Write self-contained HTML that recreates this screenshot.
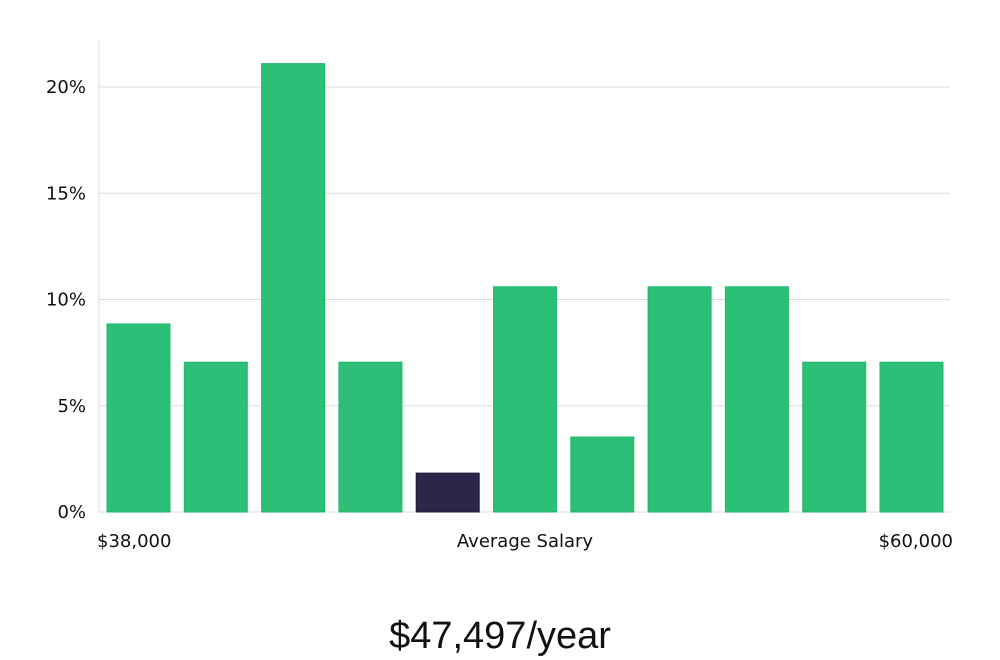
<!DOCTYPE html>
<html><head><meta charset="utf-8"><style>
html,body{margin:0;padding:0;background:#fff;width:1000px;height:660px;overflow:hidden}
svg{display:block}
text{font-family:"DejaVu Sans","Liberation Sans",sans-serif;fill:#111}
</style></head><body>
<svg id="chart" width="1000" height="660" viewBox="0 0 1000 660" xmlns="http://www.w3.org/2000/svg">
<g id="grid"></g><g id="bars"></g><g id="labels"></g>
<text x="97" y="547" font-size="18">$38,000</text>
<text x="525" y="547" font-size="18" text-anchor="middle">Average Salary</text>
<text x="953" y="547" font-size="18" text-anchor="end">$60,000</text>
<text x="500" y="648" font-size="38" text-anchor="middle" style="font-family:'Liberation Sans',sans-serif;font-weight:300">$47,497/year</text>
</svg>
<script>
const categories=["b1","b2","b3","b4","b5","b6","b7","b8","b9","b10","b11"];
const values=[8.85,7.05,21.1,7.05,1.83,10.6,3.53,10.6,10.6,7.05,7.05];
const highlightIndex=4;
const yTicks=[0,5,10,15,20];
const yTickLabels=["0%","5%","10%","15%","20%"];
const NS="http://www.w3.org/2000/svg";
const y0=512, pxPerPct=21.25, left=99, right=950;
function y(v){return y0-v*pxPerPct;}
function x(i){return 107+i*77.3;}
const grid=document.getElementById('grid');
const axis=document.createElementNS(NS,'line');


axis.setAttribute('x1',left);axis.setAttribute('x2',left);axis.setAttribute('y1',40);axis.setAttribute('y2',y0);
axis.setAttribute('stroke','#ddd');grid.appendChild(axis);
yTicks.forEach((t,i)=>{
  const l=document.createElementNS(NS,'line');
  
  
  l.setAttribute('x1',left);l.setAttribute('x2',right);l.setAttribute('y1',y(t));l.setAttribute('y2',y(t));
  l.setAttribute('stroke','#ddd');grid.appendChild(l);
  const tx=document.createElementNS(NS,'text');
  
  
  tx.setAttribute('x',86);tx.setAttribute('y',y(t)+6);tx.setAttribute('font-size','18');tx.setAttribute('text-anchor','end');
  tx.textContent=yTickLabels[i];grid.appendChild(tx);
});
const bars=document.getElementById('bars');
values.forEach((v,i)=>{
  const r=document.createElementNS(NS,'rect');
  
  
  r.setAttribute('x',x(i));r.setAttribute('width',63);
  r.setAttribute('y',y(v));r.setAttribute('height',y0-y(v));
  r.setAttribute('fill',i===highlightIndex?'#2a2748':'#2bbf77');
  r.setAttribute('stroke',i===highlightIndex?'#1e1b3a':'#22b86d');
  bars.appendChild(r);
});
</script>
</body></html>
